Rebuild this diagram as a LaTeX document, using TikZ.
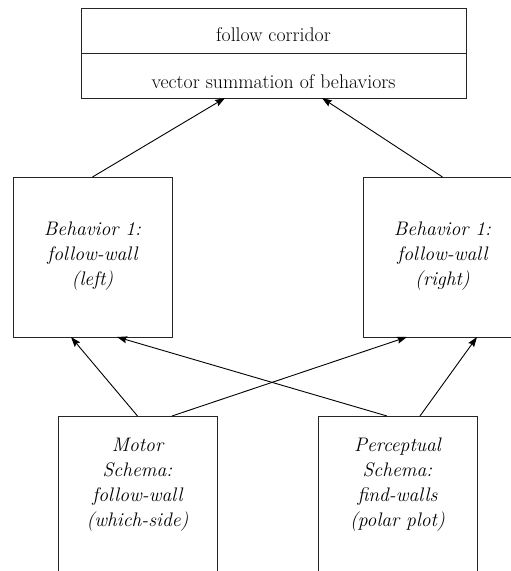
\documentclass[tikz,border=0pt]{standalone}
\usetikzlibrary{arrows.meta}
\begin{document}
\begin{tikzpicture}[x=1pt,y=-1pt,
  every node/.style={inner sep=0pt,outer sep=0pt},
  frame/.style={draw=black!85,line width=1pt,rectangle},
  wide/.style={frame,minimum width=385pt,minimum height=45pt},
  block/.style={frame,minimum width=159pt,minimum height=160pt},
  tall/.style={frame,minimum width=159pt,minimum height=200pt},
  caption/.style={font=\fontsize{19.8}{25}\selectfont,anchor=base},
  ital/.style={font=\fontsize{19.6}{25}\selectfont\itshape,align=center},
  link/.style={draw=black,line width=0.9pt,-{Stealth[length=10pt,width=7pt,inset=1.5pt]}}]
\useasboundingbox (0,0) rectangle (511,571);
\clip (0,0) rectangle (511,571);

% coordinating behavior: two stacked cells
\node[wide] (head) at (273.5,30.5) {};
\node[wide] (sum) at (273.5,75.5) {};
\node[caption] (headtxt) at (273.5,41) {follow corridor};
\node[caption] (sumtxt) at (273.5,88) {vector summation of behaviors};

% behaviors
\node[block] (bl) at (92.5,257) {};
\node[block] (br) at (442.5,257) {};
\node[ital] (bltxt) at (92.5,256) {Behavior 1:\\follow-wall\\(left)};
\node[ital] (brtxt) at (442.5,256) {Behavior 1:\\follow-wall\\(right)};

% schemas
\node[tall] (ms) at (137.5,516) {};
\node[tall] (ps) at (397.5,516) {};
\node[ital,anchor=north] (mstxt) at (137.5,438) {Motor\\Schema:\\follow-wall\\(which-side)};
\node[ital,anchor=north] (pstxt) at (397.5,438) {Perceptual\\Schema:\\find-walls\\(polar plot)};

% connectors
\draw[link] (bl.north) -- ([xshift=-48.5pt]sum.south);
\draw[link] (br.north) -- ([xshift=48.5pt]sum.south);
\draw[link] (ms.north) -- ([xshift=-21.5pt]bl.south);
\draw[link] ([xshift=34.5pt]ms.north) -- ([xshift=-35.5pt]br.south);
\draw[link] ([xshift=-10.5pt]ps.north) -- ([xshift=24.5pt]bl.south);
\draw[link] ([xshift=22.5pt]ps.north) -- ([xshift=34.5pt]br.south);
\end{tikzpicture}
\end{document}
